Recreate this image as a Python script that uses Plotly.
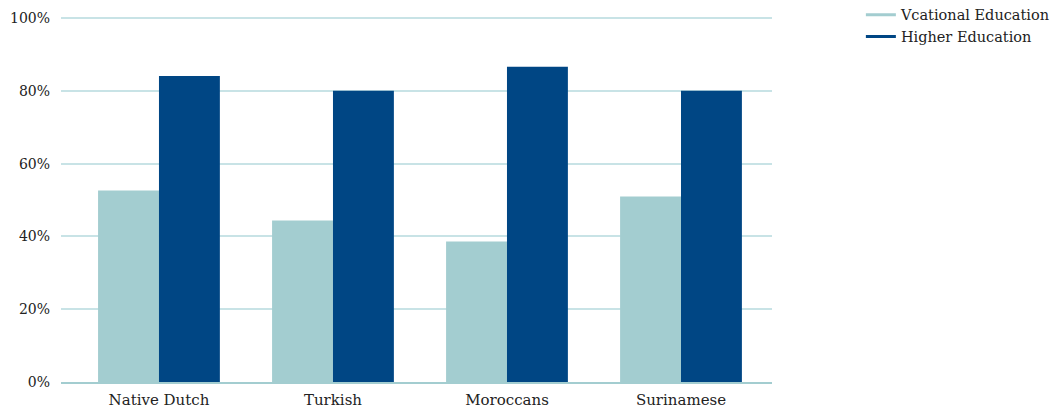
import plotly.graph_objects as go

categories = ["Native Dutch", "Turkish", "Moroccans", "Surinamese"]
vocational = [52.6, 44.4, 38.6, 51.0]
higher = [84.1, 80.0, 86.6, 80.0]
series_names = ["Vcational Education", "Higher Education"]
y_ticks = [0, 20, 40, 60, 80, 100]
y_ticktext = ["0%", "20%", "40%", "60%", "80%", "100%"]

LIGHT = "#a3cdd0"
DARK = "#004684"
FONT = "DejaVu Serif"

x_idx = list(range(len(categories)))

fig = go.Figure()
fig.add_trace(go.Bar(x=x_idx, y=vocational, marker_color=LIGHT, marker_line_width=0,
                     showlegend=False, name=series_names[0]))
fig.add_trace(go.Bar(x=x_idx, y=higher, marker_color=DARK, marker_line_width=0,
                     showlegend=False, name=series_names[1]))
# legend entries drawn as lines
fig.add_trace(go.Scatter(x=[None], y=[None], mode="lines", line=dict(color=LIGHT, width=3),
                         name=series_names[0]))
fig.add_trace(go.Scatter(x=[None], y=[None], mode="lines", line=dict(color=DARK, width=3),
                         name=series_names[1]))

fig.update_layout(
    width=1060, height=410,
    margin=dict(l=61, r=288, t=17, b=28, autoexpand=False),
    paper_bgcolor="white", plot_bgcolor="white",
    barmode="group", bargap=0.3, bargroupgap=0,
    font=dict(family=FONT, size=14, color="#222222"),
    legend=dict(x=1.125, xanchor="left", y=1.05, yanchor="top",
                font=dict(family=FONT, size=14.5, color="#222222"),
                itemwidth=30, tracegroupgap=0, bgcolor="rgba(0,0,0,0)"),
    xaxis=dict(range=[-0.563, 3.523], tickvals=x_idx, ticktext=categories,
               showgrid=False, zeroline=False, showline=True, linecolor=LIGHT,
               linewidth=2, ticks="", ticklabelstandoff=3, tickfont=dict(size=15)),
    yaxis=dict(range=[0, 100.3], tickvals=y_ticks, ticktext=y_ticktext,
               showgrid=True, gridcolor="#c8e3e6", gridwidth=1.5, zeroline=False,
               showline=False, ticks="", ticklabelstandoff=10, tickfont=dict(size=14)),
)

fig.write_html("out.html")
